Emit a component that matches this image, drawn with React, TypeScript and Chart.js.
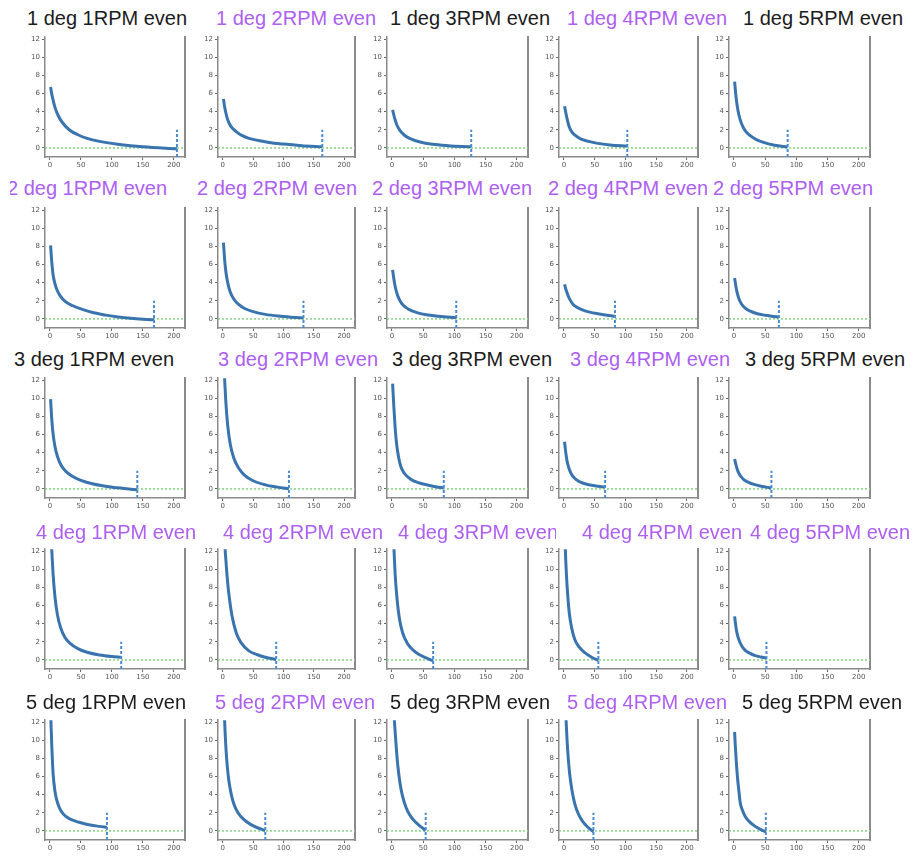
import React, { useEffect, useRef } from "react";
import { Chart, registerables } from "chart.js";
Chart.register(...registerables);

// ---------- data ----------
const DEGREES = [1, 2, 3, 4, 5];
const RPMS = [1, 2, 3, 4, 5];
const Y_TICKS = [0, 2, 4, 6, 8, 10, 12];
const X_TICKS = [0, 50, 100, 150, 200];
const X_RANGE = [-8, 218];
const Y_RANGE = [-1, 12.2];
const ZERO_LINE_X = [-8, 218];
const MARKER_Y = [-1, 2];

// title colour flags (true = purple)
const PURPLE = [
  [false, true, false, true, false],
  [true, true, true, true, true],
  [false, true, false, true, false],
  [true, true, true, true, true],
  [false, true, false, true, false],
];

// end position (vertical marker) per panel [deg][rpm]
const END_X = [
  [205, 164, 127, 103, 86],
  [168, 133, 103, 83, 72],
  [141, 109, 83, 67, 60],
  [115, 88, 66, 56, 52],
  [92, 70, 54, 48, 51],
];

// curves
const x_1_1 = [1, 3, 5, 8, 13, 20, 32, 45, 60, 80, 112, 150, 205];
const y_1_1 = [6.7, 5.9, 5.3, 4.5, 3.6, 2.8, 1.95, 1.45, 1.05, 0.72, 0.38, 0.12, -0.1];
const x_1_2 = [1, 3, 5, 8, 13, 22, 32, 43, 60, 76, 100, 130, 164];
const y_1_2 = [5.4, 4.5, 3.85, 3.1, 2.4, 1.8, 1.35, 1.05, 0.8, 0.6, 0.42, 0.25, 0.12];
const x_1_3 = [1, 3, 5, 8, 13, 20, 30, 45, 65, 90, 127];
const y_1_3 = [4.2, 3.6, 3.1, 2.5, 1.9, 1.4, 1.0, 0.65, 0.4, 0.25, 0.12];
const x_1_4 = [1, 3, 5, 8, 12, 18, 27, 40, 55, 75, 103];
const y_1_4 = [4.6, 3.9, 3.25, 2.45, 1.85, 1.4, 1.0, 0.72, 0.5, 0.33, 0.2];
const x_1_5 = [1, 3, 5, 8, 12, 18, 25, 35, 50, 65, 86];
const y_1_5 = [7.3, 5.8, 4.7, 3.6, 2.7, 1.9, 1.4, 0.95, 0.55, 0.3, 0.1];

const x_2_1 = [1, 3, 5, 8, 12, 16, 25, 37, 50, 69, 90, 107, 135, 168];
const y_2_1 = [8.1, 6.2, 4.9, 3.9, 3.1, 2.6, 1.9, 1.45, 1.1, 0.7, 0.42, 0.25, 0.05, -0.1];
const x_2_2 = [1, 3, 5, 8, 12, 18, 26, 36, 50, 70, 95, 133];
const y_2_2 = [8.4, 6.5, 5.2, 4.0, 3.0, 2.2, 1.6, 1.15, 0.8, 0.5, 0.3, 0.1];
const x_2_3 = [1, 3, 5, 8, 12, 18, 27, 40, 55, 75, 103];
const y_2_3 = [5.4, 4.4, 3.6, 2.8, 2.1, 1.5, 1.05, 0.7, 0.45, 0.3, 0.15];
const x_2_4 = [1, 3, 6, 10, 15, 22, 30, 42, 57, 70, 83];
const y_2_4 = [3.8, 3.3, 2.7, 2.1, 1.6, 1.25, 1.0, 0.75, 0.55, 0.4, 0.3];
const x_2_5 = [1, 3, 5, 8, 12, 18, 26, 36, 50, 60, 72];
const y_2_5 = [4.5, 3.6, 2.9, 2.2, 1.65, 1.2, 0.85, 0.6, 0.4, 0.3, 0.2];

const x_3_1 = [1, 3, 5, 8, 12, 18, 26, 36, 50, 70, 95, 120, 141];
const y_3_1 = [9.9, 7.6, 6.1, 4.7, 3.6, 2.6, 1.9, 1.4, 0.95, 0.55, 0.25, 0.05, -0.1];
const x_3_2 = [1, 3, 5, 8, 12, 18, 26, 36, 50, 70, 90, 109];
const y_3_2 = [15, 12, 9.5, 7.0, 5.0, 3.4, 2.3, 1.5, 0.9, 0.45, 0.2, 0.02];
const x_3_3 = [1, 3, 5, 7, 10, 14, 20, 30, 42, 57, 70, 83];
const y_3_3 = [11.6, 9.0, 6.8, 5.2, 3.7, 2.5, 1.7, 1.07, 0.7, 0.44, 0.25, 0.1];
const x_3_4 = [1, 3, 5, 8, 12, 17, 24, 33, 45, 56, 67];
const y_3_4 = [5.2, 4.0, 3.1, 2.3, 1.65, 1.2, 0.85, 0.6, 0.4, 0.3, 0.2];
const x_3_5 = [1, 3, 5, 8, 12, 17, 24, 32, 42, 51, 60];
const y_3_5 = [3.3, 2.7, 2.2, 1.7, 1.3, 0.95, 0.7, 0.5, 0.32, 0.2, 0.1];

const x_4_1 = [1, 3, 5, 8, 12, 17, 24, 33, 45, 60, 80, 100, 115];
const y_4_1 = [15, 12, 9.5, 7.0, 5.0, 3.6, 2.5, 1.8, 1.25, 0.85, 0.55, 0.38, 0.3];
const x_4_2 = [1, 3, 5, 8, 11, 15, 22, 30, 43, 56, 70, 88];
const y_4_2 = [16, 13, 11, 8.5, 6.7, 4.9, 3.0, 1.9, 1.0, 0.6, 0.3, 0.05];
const x_4_3 = [1, 3, 5, 8, 12, 17, 24, 32, 42, 54, 66];
const y_4_3 = [16, 12.5, 9.5, 6.8, 4.5, 3.0, 1.9, 1.2, 0.65, 0.25, -0.1];
const x_4_4 = [1, 2, 4, 6, 9, 13, 18, 25, 34, 45, 56];
const y_4_4 = [17, 13, 9.5, 7.3, 5.0, 3.4, 2.2, 1.4, 0.8, 0.3, -0.05];
const x_4_5 = [1, 3, 5, 8, 12, 18, 25, 34, 43, 52];
const y_4_5 = [4.8, 3.7, 2.9, 2.2, 1.6, 1.05, 0.75, 0.48, 0.32, 0.2];

const x_5_1 = [1, 2, 3, 5, 8, 11, 15, 21, 30, 40, 50, 65, 80, 92];
const y_5_1 = [13.5, 11.2, 9.3, 6.4, 4.4, 3.4, 2.6, 1.9, 1.4, 1.1, 0.9, 0.65, 0.5, 0.4];
const x_5_2 = [1, 2, 4, 6, 9, 13, 18, 25, 34, 45, 57, 70];
const y_5_2 = [17, 14, 10.5, 8.2, 6.0, 4.3, 3.0, 2.0, 1.3, 0.75, 0.35, 0.05];
const x_5_3 = [1, 3, 4, 6, 9, 13, 17, 23, 30, 38, 46, 54];
const y_5_3 = [18, 13, 12, 10, 7.4, 5.2, 3.8, 2.5, 1.6, 0.95, 0.47, 0.05];
const x_5_4 = [1, 2, 4, 6, 9, 13, 18, 24, 31, 39, 48];
const y_5_4 = [18, 15, 11.5, 9.0, 6.5, 4.5, 2.9, 1.8, 1.0, 0.4, -0.1];
const x_5_5 = [1, 2, 4, 6, 8, 10, 14, 18, 25, 34, 43, 51];
const y_5_5 = [10.9, 9.5, 7.3, 5.6, 4.3, 3.1, 2.2, 1.6, 1.0, 0.5, 0.15, -0.1];

const CURVE_X = [
  [x_1_1, x_1_2, x_1_3, x_1_4, x_1_5],
  [x_2_1, x_2_2, x_2_3, x_2_4, x_2_5],
  [x_3_1, x_3_2, x_3_3, x_3_4, x_3_5],
  [x_4_1, x_4_2, x_4_3, x_4_4, x_4_5],
  [x_5_1, x_5_2, x_5_3, x_5_4, x_5_5],
];
const CURVE_Y = [
  [y_1_1, y_1_2, y_1_3, y_1_4, y_1_5],
  [y_2_1, y_2_2, y_2_3, y_2_4, y_2_5],
  [y_3_1, y_3_2, y_3_3, y_3_4, y_3_5],
  [y_4_1, y_4_2, y_4_3, y_4_4, y_4_5],
  [y_5_1, y_5_2, y_5_3, y_5_4, y_5_5],
];

// ---------- layout ----------
const COL_LEFT = [45, 218, 387, 559, 729];
const COL_RIGHT = [185, 355, 528, 698, 870];
const ROW_BOTTOM = [157, 328, 498, 669, 840];
const PLOT_H = 120;
const Y_AXIS_W = 20;
const X_AXIS_H = 14;
const PAD_TOP = 6;
const PAD_RIGHT = 4;

const TITLE_LEFT = [
  [27, 216, 390, 567, 743],
  [7, 197, 372, 548, 713],
  [14, 218, 392, 570, 745],
  [36, 223, 398, 582, 750],
  [26, 215, 390, 567, 742],
];
const TITLE_Y = [18, 188, 359, 532, 702];
const TITLE_CLIP_L = [
  [0, 0, 0, 0, 0],
  [10, 0, 0, 0, 0],
  [0, 0, 0, 0, 0],
  [0, 0, 0, 0, 0],
  [0, 0, 0, 0, 0],
];
const TITLE_CLIP_R = [
  [918, 918, 918, 729, 918],
  [918, 918, 918, 707, 918],
  [918, 918, 918, 730, 918],
  [918, 918, 556, 742, 918],
  [918, 918, 918, 728, 918],
];

const BLACK = "#1c1c1c";
const VIOLET = "#ad5ff2";

function Panel({ r, c }: { r: number; c: number }) {
  const ref = useRef<HTMLCanvasElement | null>(null);
  const left = COL_LEFT[c] - Y_AXIS_W;
  const top = ROW_BOTTOM[r] - PLOT_H - PAD_TOP;
  const width = COL_RIGHT[c] - COL_LEFT[c] + Y_AXIS_W + PAD_RIGHT;
  const height = PLOT_H + PAD_TOP + X_AXIS_H;

  useEffect(() => {
    if (!ref.current) return;
    const xs = CURVE_X[r][c];
    const ys = CURVE_Y[r][c];
    const curve = xs.map((x, i) => ({ x, y: ys[i] }));
    const endX = END_X[r][c];
    const tickFont = { family: "DejaVu Sans", size: 7 };
    const chart = new Chart(ref.current, {
      type: "line",
      data: {
        datasets: [
          {
            data: MARKER_Y.map((y) => ({ x: endX, y })),
            borderColor: "#4a8bd0",
            borderWidth: 2,
            borderDash: [3, 2],
            pointRadius: 0,
          },
          {
            data: curve,
            borderColor: "#3a74ae",
            borderWidth: 3,
            pointRadius: 0,
            cubicInterpolationMode: "monotone",
          },
          {
            data: ZERO_LINE_X.map((x) => ({ x, y: 0 })),
            borderColor: "#86d086",
            borderWidth: 1.5,
            borderDash: [2, 2],
            pointRadius: 0,
          },
        ],
      },
      options: {
        responsive: false,
        animation: false,
        devicePixelRatio: 1,
        layout: { padding: { top: PAD_TOP, right: PAD_RIGHT, left: 0, bottom: 0 } },
        plugins: { legend: { display: false }, tooltip: { enabled: false }, title: { display: false } },
        scales: {
          x: {
            type: "linear",
            min: X_RANGE[0],
            max: X_RANGE[1],
            afterBuildTicks: (s: any) => {
              s.ticks = X_TICKS.map((v) => ({ value: v }));
            },
            afterFit: (s: any) => {
              s.height = X_AXIS_H;
            },
            ticks: { font: tickFont, color: "#555", padding: 1, maxRotation: 0, autoSkip: false },
            grid: { drawOnChartArea: false, drawTicks: true, tickLength: 3, color: "#666", lineWidth: 1 },
            border: { display: true, color: "#8a8a8a", width: 1.5 },
          },
          y: {
            type: "linear",
            min: Y_RANGE[0],
            max: Y_RANGE[1],
            afterBuildTicks: (s: any) => {
              s.ticks = Y_TICKS.map((v) => ({ value: v }));
            },
            afterFit: (s: any) => {
              s.width = Y_AXIS_W;
            },
            ticks: { font: tickFont, color: "#555", padding: 2 },
            grid: { drawOnChartArea: false, drawTicks: true, tickLength: 3, color: "#666", lineWidth: 1 },
            border: { display: true, color: "#8a8a8a", width: 1.5 },
          },
          y2: {
            type: "linear",
            position: "right",
            min: Y_RANGE[0],
            max: Y_RANGE[1],
            afterFit: (s: any) => {
              s.width = 0;
            },
            ticks: { display: false },
            grid: { drawOnChartArea: false, drawTicks: false },
            border: { display: true, color: "#8a8a8a", width: 2 },
          },
        },
      },
    } as any);
    return () => chart.destroy();
  }, [r, c]);

  return (
    <canvas
      ref={ref}
      width={width}
      height={height}
      style={{ position: "absolute", left, top, width, height }}
    />
  );
}

function Title({ r, c }: { r: number; c: number }) {
  const clipL = TITLE_CLIP_L[r][c];
  const clipR = TITLE_CLIP_R[r][c];
  const tl = TITLE_LEFT[r][c];
  return (
    <div
      style={{
        position: "absolute",
        left: clipL,
        width: clipR - clipL,
        top: TITLE_Y[r] - 13,
        height: 26,
        overflow: "hidden",
        pointerEvents: "none",
      }}
    >
      <span
        style={{
          position: "absolute",
          left: tl - clipL,
          top: 0,
          whiteSpace: "nowrap",
          fontFamily: "'Liberation Sans', Arial, sans-serif",
          fontSize: 20,
          lineHeight: "26px",
          color: PURPLE[r][c] ? VIOLET : BLACK,
        }}
      >
        {`${DEGREES[r]} deg ${RPMS[c]}RPM even`}
      </span>
    </div>
  );
}

export default function App() {
  const cells: any[] = [];
  for (let r = 0; r < 5; r++) {
    for (let c = 0; c < 5; c++) {
      cells.push(<Panel key={`p${r}${c}`} r={r} c={c} />);
      cells.push(<Title key={`t${r}${c}`} r={r} c={c} />);
    }
  }
  return (
    <div
      style={{
        position: "absolute",
        left: 0,
        top: 0,
        width: 918,
        height: 857,
        background: "#fff",
        overflow: "hidden",
      }}
    >
      {cells}
    </div>
  );
}
